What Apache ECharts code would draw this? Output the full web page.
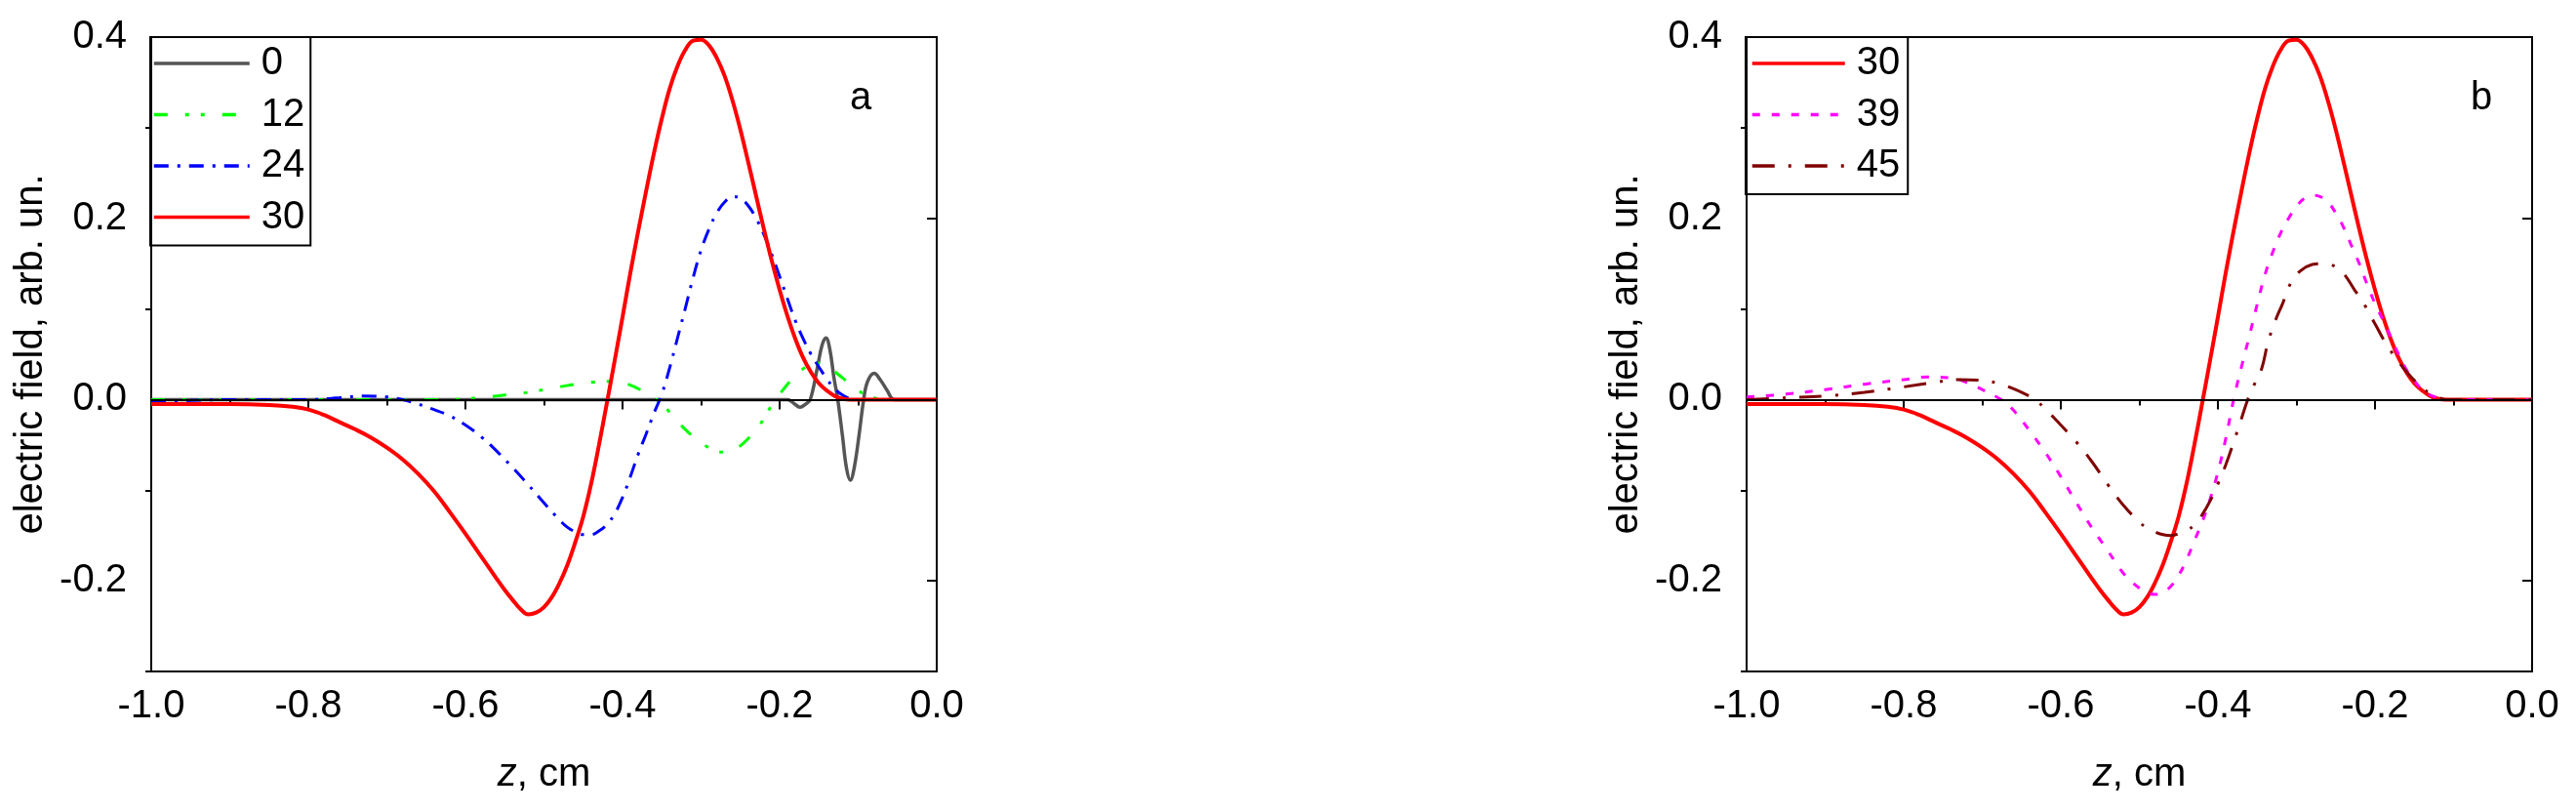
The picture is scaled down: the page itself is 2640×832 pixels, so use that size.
<!DOCTYPE html>
<html>
<head>
<meta charset="utf-8">
<script src="https://cdn.jsdelivr.net/npm/echarts@6/dist/echarts.min.js"></script>
<style>
  html, body { margin: 0; padding: 0; background: #fff; }
  #statistics { width: 2640px; height: 832px; }
</style>
</head>
<body>
<div id="statistics"></div>
<script>
// z, cm  /  electric field, arb. un.
var z30 = [-1.0, -0.9, -0.85, -0.82, -0.8, -0.78, -0.76, -0.74, -0.72, -0.7, -0.68, -0.66, -0.64, -0.62, -0.6, -0.58, -0.56, -0.55, -0.54, -0.53, -0.52, -0.51, -0.5, -0.49, -0.48, -0.47, -0.46, -0.45, -0.44, -0.43, -0.42, -0.41, -0.4, -0.39, -0.38, -0.37, -0.36, -0.35, -0.34, -0.33, -0.32, -0.31, -0.3, -0.29, -0.28, -0.27, -0.26, -0.25, -0.24, -0.23, -0.22, -0.21, -0.2, -0.19, -0.18, -0.17, -0.16, -0.15, -0.14, -0.13, -0.12, -0.11, 0]
var e30 = [-0.005, -0.005, -0.006, -0.008, -0.011, -0.017, -0.025, -0.033, -0.042, -0.053, -0.066, -0.082, -0.101, -0.124, -0.148, -0.173, -0.198, -0.210, -0.221, -0.231, -0.237, -0.235, -0.229, -0.218, -0.202, -0.182, -0.157, -0.129, -0.093, -0.050, -0.004, 0.043, 0.091, 0.140, 0.186, 0.230, 0.272, 0.310, 0.343, 0.368, 0.386, 0.396, 0.397, 0.391, 0.377, 0.357, 0.330, 0.298, 0.262, 0.225, 0.188, 0.153, 0.121, 0.092, 0.067, 0.046, 0.030, 0.018, 0.010, 0.004, 0.001, 0.000, 0]

var z24 = [-1.0, -0.95, -0.9, -0.8, -0.76, -0.73, -0.7, -0.68, -0.66, -0.64, -0.62, -0.6, -0.58, -0.56, -0.54, -0.52, -0.5, -0.48, -0.47, -0.46, -0.45, -0.44, -0.43, -0.42, -0.41, -0.4, -0.39, -0.38, -0.37, -0.36, -0.35, -0.34, -0.33, -0.32, -0.31, -0.3, -0.29, -0.28, -0.27, -0.26, -0.25, -0.24, -0.23, -0.22, -0.21, -0.2, -0.19, -0.18, -0.17, -0.16, -0.15, -0.14, -0.13, -0.12, -0.11, -0.1, 0]
var e24 = [-0.002, -0.001, 0.000, 0.000, 0.002, 0.004, 0.003, 0.000, -0.005, -0.011, -0.018, -0.028, -0.041, -0.057, -0.075, -0.094, -0.114, -0.133, -0.141, -0.146, -0.149, -0.149, -0.145, -0.138, -0.126, -0.108, -0.085, -0.060, -0.038, -0.015, 0.006, 0.035, 0.068, 0.101, 0.135, 0.165, 0.188, 0.206, 0.218, 0.224, 0.222, 0.214, 0.200, 0.182, 0.160, 0.136, 0.111, 0.087, 0.067, 0.050, 0.036, 0.023, 0.012, 0.005, 0.001, 0.000, 0]

var z12 = [-1.0, -0.62, -0.6, -0.58, -0.56, -0.54, -0.52, -0.5, -0.48, -0.46, -0.44, -0.42, -0.4, -0.39, -0.38, -0.37, -0.36, -0.35, -0.34, -0.33, -0.32, -0.31, -0.3, -0.29, -0.28, -0.27, -0.26, -0.25, -0.24, -0.23, -0.22, -0.21, -0.2, -0.19, -0.18, -0.17, -0.16, -0.15, -0.14, -0.13, -0.12, -0.11, -0.1, -0.09, -0.08, -0.07, 0]
var e12 = [0.000, 0.000, 0.001, 0.002, 0.004, 0.006, 0.008, 0.011, 0.014, 0.017, 0.019, 0.020, 0.018, 0.016, 0.012, 0.007, 0.002, -0.005, -0.014, -0.024, -0.033, -0.041, -0.048, -0.053, -0.057, -0.058, -0.056, -0.051, -0.043, -0.033, -0.021, -0.006, 0.006, 0.017, 0.026, 0.034, 0.039, 0.040, 0.037, 0.031, 0.024, 0.017, 0.010, 0.005, 0.002, 0.000, 0]

var z0 = [-1.0, -0.19, -0.182, -0.174, -0.167, -0.161, -0.152, -0.146, -0.141, -0.136, -0.131, -0.126, -0.12, -0.115, -0.11, -0.105, -0.099, -0.093, -0.088, -0.0795, -0.072, -0.063, -0.054, 0]
var e0 = [0, 0, -0.004, -0.0085, -0.005, 0.000, 0.035, 0.060, 0.068, 0.055, 0.025, 0.000, -0.040, -0.075, -0.089, -0.075, -0.040, 0.000, 0.020, 0.029, 0.022, 0.010, 0.000, 0]

var z39 = [-1.0, -0.95, -0.9, -0.85, -0.8, -0.77, -0.74, -0.72, -0.7, -0.68, -0.67, -0.66, -0.64, -0.62, -0.6, -0.58, -0.56, -0.54, -0.53, -0.52, -0.51, -0.5, -0.49, -0.48, -0.47, -0.46, -0.45, -0.44, -0.43, -0.42, -0.41, -0.4, -0.39, -0.38, -0.37, -0.36, -0.35, -0.34, -0.33, -0.32, -0.31, -0.3, -0.29, -0.28, -0.27, -0.26, -0.25, -0.24, -0.23, -0.22, -0.21, -0.2, -0.19, -0.18, -0.17, -0.16, -0.15, -0.14, -0.13, -0.12, -0.11, 0]
var e39 = [0.003, 0.006, 0.011, 0.017, 0.022, 0.025, 0.024, 0.019, 0.011, 0.002, -0.004, -0.012, -0.034, -0.058, -0.085, -0.114, -0.142, -0.167, -0.180, -0.192, -0.201, -0.208, -0.213, -0.215, -0.213, -0.206, -0.194, -0.177, -0.156, -0.135, -0.110, -0.080, -0.043, 0.000, 0.036, 0.070, 0.105, 0.138, 0.163, 0.184, 0.200, 0.213, 0.222, 0.2255, 0.224, 0.218, 0.206, 0.190, 0.170, 0.150, 0.127, 0.106, 0.088, 0.069, 0.050, 0.033, 0.021, 0.011, 0.005, 0.002, 0.000, 0]

var z45 = [-1.0, -0.95, -0.9, -0.85, -0.8, -0.76, -0.73, -0.7, -0.68, -0.66, -0.645, -0.633, -0.62, -0.6, -0.58, -0.56, -0.54, -0.52, -0.5, -0.49, -0.48, -0.47, -0.46, -0.45, -0.44, -0.43, -0.42, -0.41, -0.4, -0.39, -0.38, -0.37, -0.362, -0.354, -0.344, -0.336, -0.326, -0.318, -0.307, -0.295, -0.28, -0.268, -0.257, -0.242, -0.226, -0.213, -0.199, -0.184, -0.164, -0.152, -0.14, -0.13, -0.12, -0.109, 0]
var e45 = [0.000, 0.002, 0.004, 0.008, 0.014, 0.019, 0.022, 0.021, 0.018, 0.012, 0.006, 0.000, -0.010, -0.028, -0.047, -0.069, -0.094, -0.117, -0.135, -0.142, -0.146, -0.149, -0.150, -0.148, -0.145, -0.138, -0.127, -0.112, -0.093, -0.072, -0.047, -0.021, 0.000, 0.016, 0.035, 0.064, 0.089, 0.105, 0.129, 0.142, 0.149, 0.150, 0.149, 0.141, 0.121, 0.104, 0.082, 0.059, 0.035, 0.023, 0.013, 0.007, 0.003, 0.000, 0]

var xTicks = [-1.0, -0.8, -0.6, -0.4, -0.2, 0.0]
var yTicks = [-0.2, 0.0, 0.2, 0.4]
var yMinorTicks = [-0.3, -0.1, 0.1, 0.3]
var zeroLine = [0]

var FONT = '"Liberation Sans", Arial, sans-serif'

function pairs(xs, ys) {
  var out = []
  for (var i = 0; i < xs.length; i++) {
    out.push([xs[i], ys[i]])
  }
  return out
}

function fmt(v) {
  return Number(v).toFixed(1)
}

function makeX(gi) {
  return {
    type: 'value',
    gridIndex: gi,
    min: -1,
    max: 0,
    interval: 0.2,
    name: '{i|z}, cm',
    nameLocation: 'middle',
    nameGap: 86,
    nameTextStyle: {
      color: '#000', fontSize: 40, fontFamily: FONT,
      rich: { i: { fontStyle: 'italic', fontSize: 40, fontFamily: FONT, color: '#000' } }
    },
    axisLine: { show: true, lineStyle: { color: '#000', width: 2 } },
    axisTick: { show: true, inside: false, length: 10, customValues: xTicks, lineStyle: { color: '#000', width: 2 } },
    minorTick: { show: true, splitNumber: 2, length: 6, lineStyle: { color: '#000', width: 2 } },
    axisLabel: { customValues: xTicks, formatter: fmt, fontSize: 40, fontFamily: FONT, color: '#000', margin: 16 },
    splitLine: { show: false }
  }
}

function makeY(gi) {
  return {
    type: 'value',
    gridIndex: gi,
    position: 'left',
    min: -0.3,
    max: 0.4,
    interval: 0.1,
    name: 'electric field, arb. un.',
    nameLocation: 'middle',
    nameGap: 103,
    nameTextStyle: { color: '#000', fontSize: 40, fontFamily: FONT },
    axisLine: { show: true, lineStyle: { color: '#000', width: 2 } },
    axisTick: { show: true, inside: false, length: 10, customValues: yTicks, lineStyle: { color: '#000', width: 2 } },
    axisLabel: { customValues: yTicks, formatter: fmt, fontSize: 40, fontFamily: FONT, color: '#000', margin: 25 },
    splitLine: { show: false }
  }
}

// second y axis only for the short ticks
function makeYMinor(gi) {
  return {
    type: 'value',
    gridIndex: gi,
    position: 'left',
    min: -0.3,
    max: 0.4,
    interval: 0.1,
    axisLine: { show: false },
    axisTick: { show: true, inside: false, length: 6, customValues: yMinorTicks, lineStyle: { color: '#000', width: 2 } },
    axisLabel: { show: false },
    splitLine: { show: false }
  }
}

function line(name, xs, ys, yi, color, width, dash, zl) {
  var s = {
    name: name,
    type: 'line',
    xAxisIndex: yi === 0 ? 0 : 1,
    yAxisIndex: yi,
    data: pairs(xs, ys),
    showSymbol: false,
    symbol: 'none',
    smooth: 0.4,
    silent: true,
    animation: false,
    lineStyle: { color: color, width: width, type: dash },
    itemStyle: { color: color }
  }
  if (zl) {
    s.markLine = {
      silent: true,
      symbol: ['none', 'none'],
      label: { show: false },
      lineStyle: { color: '#000', width: 2, type: 'solid' },
      data: zeroLine.map(function (v) { return { yAxis: v } })
    }
  }
  return s
}

var legendText = { color: '#000', fontSize: 40, fontFamily: FONT, lineHeight: 40, padding: [0, 0, 0, 7] }

let myChart = echarts.init(document.getElementById('statistics'), null, { renderer: 'canvas' })
myChart.setOption({
  animation: false,
  backgroundColor: '#fff',
  title: [
    { text: 'a', left: 866, top: 76, textStyle: { fontSize: 40, fontWeight: 'normal', fontFamily: FONT, color: '#000' } },
    { text: 'b', left: 2527, top: 76, textStyle: { fontSize: 40, fontWeight: 'normal', fontFamily: FONT, color: '#000' } }
  ],
  grid: [
    { left: 155, top: 38, width: 805, height: 650, show: true, borderColor: '#000', borderWidth: 2, backgroundColor: 'transparent' },
    { left: 1790, top: 38, width: 805, height: 650, show: true, borderColor: '#000', borderWidth: 2, backgroundColor: 'transparent' }
  ],
  legend: [
    {
      data: ['0', '12', '24', '30'],
      orient: 'vertical',
      left: 154, top: 38,
      itemWidth: 98, itemHeight: 20, itemGap: 12.5,
      padding: [7, 6, 9, 2],
      borderColor: '#000', borderWidth: 2,
      itemStyle: { opacity: 0 },
      lineStyle: { width: 3.5 },
      textStyle: legendText,
      selectedMode: false
    },
    {
      data: ['30', '39', '45'],
      orient: 'vertical',
      left: 1789, top: 38,
      itemWidth: 95, itemHeight: 20, itemGap: 12.5,
      padding: [7, 8, 9, 5],
      borderColor: '#000', borderWidth: 2,
      itemStyle: { opacity: 0 },
      lineStyle: { width: 3.5 },
      textStyle: legendText,
      selectedMode: false
    }
  ],
  xAxis: [makeX(0), makeX(1)],
  yAxis: [makeY(0), makeYMinor(0), makeY(1), makeYMinor(1)],
  series: [
    line('0', z0, e0, 0, '#555555', 3.5, 'solid', true),
    line('12', z12, e12, 0, '#00ff00', 3, [14, 18, 4, 12, 4, 18]),
    line('24', z24, e24, 0, '#0000ff', 3, [15, 9, 3, 9]),
    line('30', z30, e30, 0, '#ff0000', 4, 'solid'),
    line('30', z30, e30, 2, '#ff0000', 4, 'solid', true),
    line('39', z39, e39, 2, '#ff00ff', 3, [8, 12]),
    line('45', z45, e45, 2, '#800000', 3, [23, 14, 3, 14])
  ]
})
</script>
</body>
</html>
